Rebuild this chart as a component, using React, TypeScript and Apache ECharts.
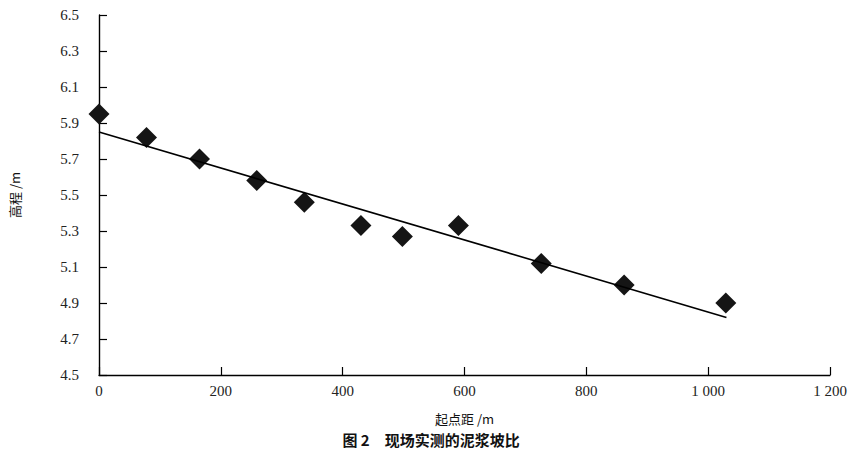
import * as echarts from "echarts";
import React, { useEffect, useRef } from "react";

// 起点距 (m) and 高程 (m) of the measured points
const distances = [0, 78, 165, 259, 337, 430, 498, 590, 726, 862, 1029];
const elevations = [5.95, 5.82, 5.7, 5.58, 5.46, 5.33, 5.27, 5.33, 5.12, 5.0, 4.9];

// fitted trend line end points
const trendX = [0, 1030];
const trendY = [5.85, 4.82];

const yTicks = [4.5, 4.7, 4.9, 5.1, 5.3, 5.5, 5.7, 5.9, 6.1, 6.3, 6.5];
const xTicks = [0, 200, 400, 600, 800, 1000, 1200];

const serif = "Times New Roman, Liberation Serif, serif";
const cjk = "Noto Sans CJK SC";

const fmtThousands = (v: number) =>
  String(v).replace(/\B(?=(\d{3})+(?!\d))/g, " ");

const App: React.FC = () => {
  const chartRef = useRef<HTMLDivElement | null>(null);

  useEffect(() => {
    const chart = echarts.init(chartRef.current, null, { renderer: "svg" });
    chart.setOption({
      animation: false,
      backgroundColor: "#fff",
      textStyle: { fontFamily: serif },
      title: {
        text: "图 2　现场实测的泥浆坡比",
        left: "center",
        top: 427,
        textStyle: { fontFamily: cjk, fontSize: 15, fontWeight: "bold", color: "#111" },
      },
      grid: { left: 96, top: 15, width: 734, height: 360 },
      xAxis: {
        type: "value",
        min: xTicks[0],
        max: xTicks[xTicks.length - 1],
        interval: 200,
        name: "起点距 /m",
        nameLocation: "middle",
        nameGap: 37,
        nameTextStyle: { fontFamily: cjk, fontSize: 13, color: "#111" },
        splitLine: { show: false },
        axisLine: { lineStyle: { color: "#000", width: 1.4 } },
        axisTick: { inside: true, length: 8, lineStyle: { color: "#000", width: 1.2 } },
        axisLabel: {
          margin: 8,
          fontFamily: serif,
          fontSize: 15,
          color: "#222",
          formatter: (v: number) => fmtThousands(v),
        },
      },
      yAxis: {
        type: "value",
        min: yTicks[0],
        max: yTicks[yTicks.length - 1],
        name: "高程 /m",
        nameLocation: "middle",
        nameRotate: 90,
        nameGap: 78,
        nameTextStyle: { fontFamily: cjk, fontSize: 13, color: "#111" },
        splitLine: { show: false },
        axisLine: { show: true, lineStyle: { color: "#000", width: 1.4 } },
        axisTick: {
          inside: true,
          length: 8,
          customValues: yTicks,
          lineStyle: { color: "#000", width: 1.2 },
        },
        axisLabel: {
          margin: 20,
          fontFamily: serif,
          fontSize: 15,
          color: "#222",
          customValues: yTicks,
          formatter: (v: number) => v.toFixed(1),
        },
      },
      series: [
        {
          type: "line",
          data: trendX.map((x, i) => [x, trendY[i]]),
          symbol: "none",
          lineStyle: { color: "#000", width: 1.6 },
        },
        {
          type: "scatter",
          data: distances.map((x, i) => [x, elevations[i]]),
          symbol: "diamond",
          symbolSize: [21, 21],
          itemStyle: { color: "#151515", opacity: 1 },
        },
      ],
    });
    return () => chart.dispose();
  }, []);

  return (
    <div
      ref={chartRef}
      style={{ position: "fixed", left: 0, top: 0, width: 862, height: 449 }}
    />
  );
};

export default App;
